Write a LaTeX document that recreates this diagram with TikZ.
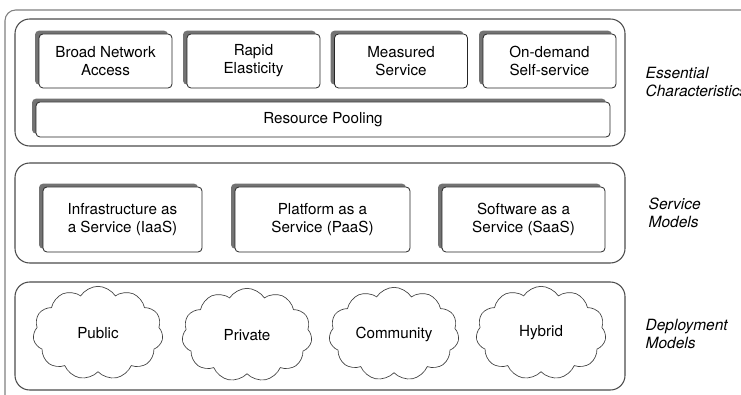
\documentclass[tikz,border=0pt]{standalone}
\usepackage{fontspec}
\setmainfont{TeX Gyre Heros}
\usetikzlibrary{shadows,shapes.symbols}

\tikzset{
  panel/.style={draw=black!70, line width=0.8pt, rounded corners=11pt},
  feature/.style={draw=black!85, fill=white, line width=0.6pt, rounded corners=3pt,
    align=center, inner sep=0pt,
    drop shadow={shadow xshift=-3pt, shadow yshift=2.5pt, fill=black!55, opacity=1}},
  deploy/.style={draw=black!75, line width=0.5pt, cloud, cloud puffs=11,
    cloud puff arc=115, aspect=1.6, inner sep=0pt},
  layer/.style={anchor=west, align=left, font=\fontsize{11.6}{13.5}\selectfont\itshape}
}

\begin{document}
\begin{tikzpicture}[x=0.75pt, y=-0.75pt, font=\fontsize{11.4}{13.6}\selectfont]
			\clip (0,0) rectangle (741,395);
			\fill[white] (0,0) rectangle (741,395);
			\draw[black!50, line width=0.8pt, rounded corners=8pt] (5,420)--(5,10)--(760,10);
			\draw[panel] (15,19) rectangle (625,146);
			\draw[panel] (15,163) rectangle (625,263);
			\draw[panel] (15,282) rectangle (625,390);
			\node[feature, minimum width=99.75pt, minimum height=40.5pt] (broad) at (105.5,61) {Broad Network\\Access};
			\node[feature, minimum width=99.75pt, minimum height=40.5pt] (rapid) at (253.5,61) {Rapid\\Elasticity};
			\node[feature, minimum width=99.75pt, minimum height=40.5pt] (measured) at (401,61) {Measured\\Service};
			\node[feature, minimum width=99.75pt, minimum height=40.5pt] (ondemand) at (549.5,61) {On-demand\\Self-service};
			\node[feature, minimum width=430.5pt, minimum height=26.25pt] (pooling) at (323,119.5) {Resource Pooling};
			\node[feature, minimum width=119.25pt, minimum height=48.75pt] (iaas) at (122.5,219.5) {Infrastructure as\\a Service (IaaS)};
			\node[feature, minimum width=131.25pt, minimum height=48.75pt] (paas) at (322.5,219.5) {Platform as a\\Service (PaaS)};
			\node[feature, minimum width=122.25pt, minimum height=48.75pt] (saas) at (523.5,219.5) {Software as a\\Service (SaaS)};
			\node[deploy, minimum width=97.5pt, minimum height=70pt] (public) at (98,333) {Public};
			\node[deploy, minimum width=97.5pt, minimum height=70pt] (private) at (247,335) {Private};
			\node[deploy, minimum width=97.5pt, minimum height=70pt] (community) at (394,334) {Community};
			\node[deploy, minimum width=97.5pt, minimum height=70pt] (hybrid) at (541,333) {Hybrid};
			\node[layer] (essential) at (641,82) {Essential\\Characteristics};
			\node[layer] (service) at (644,213) {Service\\Models};
			\node[layer] (deployment) at (641,334) {Deployment\\Models};
		\end{tikzpicture}
\end{document}
